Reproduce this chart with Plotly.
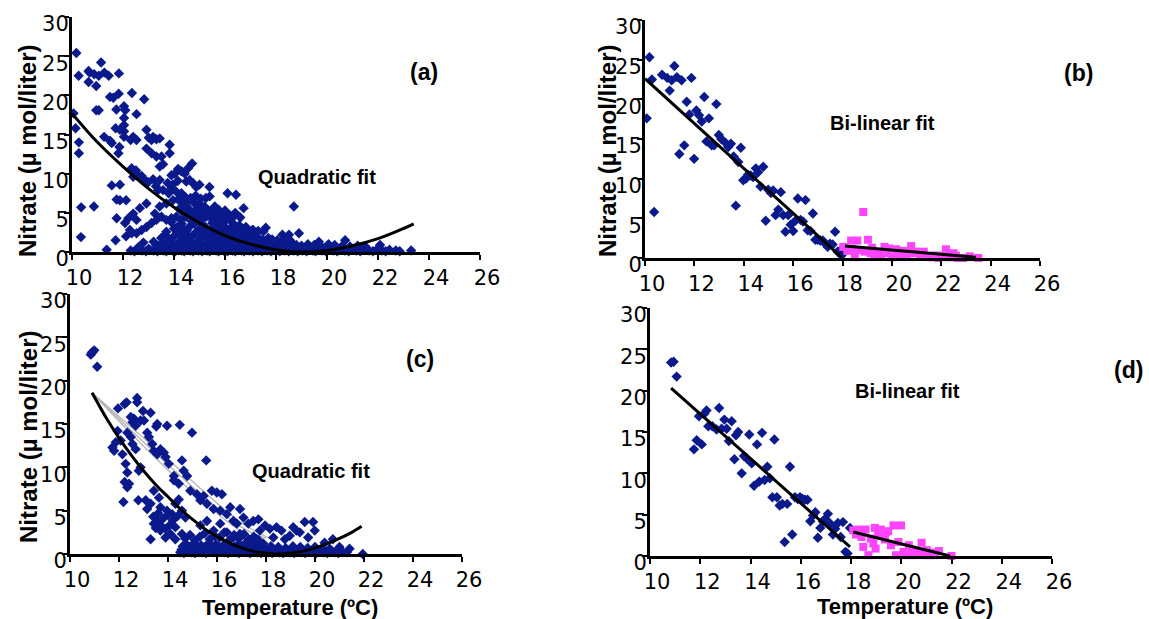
import plotly.graph_objects as go

# ---------------- DATA ----------------
# Panel (a): all data, quadratic fit
a_x_sparse = [10.17,10.26,10.06,10.14,10.27,10.27,10.36,10.35,10.65,10.69,10.65,10.87,10.95,11.05,11.14,11.27,10.95,11.05,10.86,11.26,11.36,11.44,11.49,11.62,11.84,11.83,11.74,11.71,11.56,11.49,11.56,11.75,11.88,12.12,11.75,11.71,11.88,11.86,11.82,12.04,12.09,12.04,12.04,12.04,11.88,12.04,12.35,12.53,12.3,12.4,12.53,12.34,12.51,12.6,12.4,12.73,12.83,12.92,13.01,13.12,13.18,13.31,13.44,13.83,13.83,12.92,13.12,13.31,13.51,13.57,13.44,12.86,12.99,13.18,13.29,13.38,13.44,13.57,13.79,13.9,14.03,14.16,14.29,14.42,14.55,14.71,14.48,14.61,14.74,14.87,15.0,15.39,13.9,14.09,14.29,13.96,14.16,14.35,14.55,14.74,15.0,15.19,15.32,15.52,15.75,16.1,16.43,16.73,13.7,13.44,13.25,12.92,12.66,12.53,12.4,12.21,12.08,12.27,12.12,12.34,12.53,12.73,12.92,13.12,13.31,13.51,13.7,13.9,14.09,14.29,14.48,14.68,14.87,15.06,15.26,15.52,15.78,16.04,16.3,16.56,16.82,17.08,17.6,18.25,18.51,18.7,18.9,19.68,20.71,22.08,20.06,21.49]
a_y_sparse = [25.4,22.5,17.7,15.8,14.0,12.6,5.7,1.9,23.1,22.9,21.7,22.7,21.2,22.5,24.2,22.9,18.1,18.1,5.8,14.7,0.3,22.5,19.8,19.7,22.8,20.2,18.2,15.8,13.9,14.2,8.5,6.7,6.6,6.6,4.3,1.5,8.6,13.4,12.6,18.6,18.1,17.1,16.2,15.4,15.6,14.7,20.3,17.6,14.3,14.7,14.3,10.7,10.4,9.8,9.6,9.7,19.5,15.6,14.6,14.3,14.7,14.4,14.5,13.7,12.6,13.2,12.6,12.2,12.2,11.2,10.9,9.2,8.9,9.3,8.4,7.9,9.2,7.9,7.5,9.8,10.0,10.6,10.3,10.0,10.7,11.3,9.0,9.2,8.8,8.3,8.6,8.3,8.1,7.7,7.5,6.6,6.7,6.2,6.6,6.4,6.1,5.8,5.4,5.4,5.4,7.5,7.3,5.6,6.2,5.8,4.9,6.2,5.6,4.1,4.9,4.3,3.7,2.8,2.0,2.4,2.4,2.8,3.2,3.7,4.1,4.5,4.1,4.3,4.5,4.1,4.5,4.9,4.5,4.1,4.5,4.1,3.9,4.1,3.7,3.4,3.2,2.8,3.1,2.2,2.2,5.8,2.4,1.3,1.5,0.9,1.0,0.7]
a_x_dense = [12.3,12.45,12.6,12.75,12.9,13.05,13.2,13.35,13.45,13.6,13.7,13.8,13.95,14.05,14.15,14.3,14.4,14.5,14.65,14.75,14.85,14.95,15.1,15.2,15.3,15.4,15.55,15.65,15.75,15.85,15.95,16.1,16.2,16.3,16.4,16.55,16.65,16.75,16.85,16.95,17.1,17.2,17.3,17.45,17.55,17.65,17.8,17.9,18.0,18.15,18.25,18.35,18.5,18.6,18.7,18.85,18.95,19.05,19.2,19.3,19.45,19.55,19.7,19.8,19.95,20.1,20.25,20.4,20.55,20.7,20.85,21.0,21.15,21.3,21.5,21.65,21.8,21.95,22.15,22.3,22.45,22.7,22.85,23.3,
             13.3,13.55,13.75,13.9,14.1,14.25,14.45,14.6,14.8,14.9,15.05,15.25,15.35,15.5,15.6,15.8,15.9,16.05,16.25,16.35,16.5,16.6,16.8,16.9,17.05,17.25,17.4,17.6,17.75,17.95,18.1,18.3,18.45,18.65,18.8,19.0,19.25,19.5,19.75,20.0,20.3,20.6,20.9,21.2,21.5,
             13.5,13.65,13.85,14.0,14.2,14.35,14.55,14.7,14.85,15.0,15.15,15.3,15.45,15.6,15.75,15.9,16.0,16.15,16.3,16.45,16.6,16.75,16.9,17.05,17.2,17.35,17.5,17.7,17.85,18.05,18.3,18.55,
             14.0,14.2,14.4,14.6,14.8,15.0,15.2,15.4,15.55,15.7,15.85,16.0,16.2,16.35,16.5,16.7,16.9,17.1,17.3,17.5,
             14.3,14.5,14.7,14.9,15.1,15.3,15.45,15.65,15.8,16.0,16.15,16.3,14.45,14.65,14.85,15.05,15.25,15.4,13.75,13.95,14.15,
             13.6,13.8,14.0,14.2,14.4,14.6,14.8,15.0,15.2,15.4,15.6,15.8,16.0,16.2,16.4,16.6,16.8,17.0,
             13.7,13.9,14.1,14.3,14.5,14.7,14.9,15.1,15.3,15.5,15.7,15.9,16.1,16.3,16.5,16.7,
             14.2,14.4,14.6,14.8,15.0,15.2,15.4,15.6,15.8,16.0,16.2,16.4,16.6,13.2,13.4,13.6,12.6,12.8,13.0]
a_y_dense = [0.2,0.1,0.3,0.2,0.1,0.3,0.2,0.1,0.3,0.2,0.1,0.3,0.2,0.1,0.3,0.2,0.1,0.3,0.2,0.1,0.3,0.2,0.1,0.3,0.2,0.1,0.3,0.2,0.1,0.3,0.2,0.1,0.3,0.2,0.1,0.3,0.2,0.1,0.3,0.2,0.1,0.3,0.2,0.1,0.3,0.2,0.1,0.3,0.2,0.1,0.3,0.2,0.1,0.3,0.2,0.1,0.3,0.2,0.1,0.3,0.2,0.1,0.3,0.2,0.1,0.3,0.2,0.1,0.3,0.2,0.1,0.3,0.2,0.1,0.3,0.2,0.1,0.3,0.2,0.1,0.3,0.2,0.1,0.2,
             0.9,1.1,0.8,1.2,0.9,1.0,0.8,1.2,0.9,1.1,0.8,1.0,1.2,0.9,0.8,1.1,0.9,1.2,0.8,1.0,0.9,1.1,0.8,1.2,0.9,1.0,0.8,1.1,0.9,0.8,1.0,0.9,0.8,1.1,0.9,0.8,1.0,0.9,0.8,0.7,0.9,0.8,0.7,0.8,0.7,
             1.8,2.2,1.6,2.0,2.4,1.7,2.1,1.9,2.5,1.6,2.2,1.8,2.3,1.7,2.0,2.4,1.6,2.1,1.8,2.2,1.5,1.9,2.3,1.6,2.0,1.7,1.5,1.8,1.6,1.5,1.6,1.5,
             3.0,3.4,2.8,3.2,3.6,2.9,3.3,2.7,3.1,3.5,2.8,3.2,3.0,2.7,3.1,2.9,2.6,2.8,2.7,2.6,
             5.2,5.8,5.0,5.6,4.8,5.3,4.9,4.7,5.1,4.6,4.8,4.4,7.0,6.9,7.2,6.8,6.9,7.1,8.8,8.6,9.1,
             0.6,1.4,0.5,1.3,0.6,1.5,0.5,1.4,0.6,1.3,0.5,1.4,0.6,1.2,0.5,1.3,0.5,1.1,
             2.6,3.8,2.4,3.6,2.7,3.9,2.5,3.5,2.6,3.7,2.4,3.3,2.5,3.0,2.3,2.9,
             5.5,6.0,5.4,6.3,5.2,5.7,4.9,5.8,4.7,5.3,4.6,5.0,4.4,1.3,0.8,0.5,0.6,1.2,0.4]
a_fit_x = [10.0,11.0,12.0,13.0,14.0,15.0,16.0,17.0,18.0,19.0,20.0,21.0,22.0,23.0,23.4]
a_fit_y = [17.7,14.0,10.9,8.1,5.7,3.7,2.1,1.0,0.3,0.0,0.2,0.8,1.7,3.0,3.6]

# Panel (b): bi-linear fit, all data
b_low_x = [10.07,10.18,10.28,10.37,10.69,10.9,11.0,11.08,11.19,11.29,11.39,11.48,11.59,11.69,11.8,11.88,11.99,12.08,12.19,12.3,12.4,12.49,12.59,12.7,12.8,12.89,12.99,13.09,13.27,13.37,13.48,13.59,13.68,13.78,13.88,13.98,14.09,14.17,14.28,14.38,14.49,14.58,14.68,14.79,14.89,14.99,15.1,15.19,15.29,15.4,15.5,15.6,15.69,15.8,15.9,16.0,16.09,16.19,16.3,16.4,16.5,16.59,16.7,16.8,16.9,16.99,17.1,17.2,17.3,17.4,17.49,17.6,17.7,17.8,17.89,17.96]
b_low_y = [17.6,25.3,22.5,5.8,23.1,22.7,21.1,22.4,24.2,22.8,13.1,22.4,14.2,19.7,18.1,22.7,12.5,18.6,18.0,17.2,20.3,14.7,17.6,14.2,14.2,19.4,15.5,15.0,14.5,14.0,14.4,12.8,6.6,12.1,13.9,9.8,10.0,10.5,10.4,10.2,11.3,10.8,9.0,11.5,4.7,8.6,8.2,8.5,5.4,6.1,8.3,5.4,3.3,5.4,4.2,3.4,4.7,7.5,4.8,4.6,7.3,3.5,3.4,5.6,2.3,2.3,2.2,2.2,1.8,1.4,1.8,1.7,3.3,0.8,0.9,0.3]
b_high_x = [18.03,18.35,18.5,18.6,18.84,19.03,19.14,19.28,19.42,19.56,19.7,19.9,20.0,20.18,20.3,20.46,20.6,20.78,20.87,21.0,21.15,21.29,21.43,21.57,21.7,21.88,22.19,22.33,22.5,22.67,22.88,23.16,23.5,18.4,18.7,19.2,19.83,20.25,20.67,21.22,21.8,22.05,22.6,18.2,18.9,19.5]
b_high_y = [1.4,2.2,0.1,2.2,5.8,2.3,0.6,0.3,0.5,0.2,1.4,1.2,0.1,1.1,0.3,0.9,0.3,1.5,0.6,0.8,0.2,0.8,0.2,0.1,0.3,0.0,1.1,0.1,0.6,0.0,0.0,0.2,0.0,1.1,1.0,1.3,0.6,0.5,0.6,0.4,0.3,0.3,0.3,0.9,0.8,0.4]
b_fit1_x = [10.0,17.96]
b_fit1_y = [22.6,0.1]
b_fit2_x = [18.1,23.4]
b_fit2_y = [1.5,0.1]

# Panel (c): quadratic fit, subset
c_x_sparse = [10.85,10.92,10.99,10.88,11.11,11.96,12.23,12.31,12.74,12.74,12.98,13.29,13.52,13.56,13.96,14.48,14.98,15.56,16.94,11.94,11.87,11.73,11.8,12.07,12.14,12.27,12.34,12.23,12.34,12.41,12.18,12.79,12.48,12.55,12.61,12.34,12.48,12.55,12.68,12.68,12.88,13.02,13.15,13.22,13.36,13.42,13.56,13.69,13.83,13.9,14.03,12.81,12.88,13.09,13.15,13.29,13.42,13.63,13.69,13.56,13.42,13.29,13.69,13.9,14.1,14.3,14.57,13.96,14.17,14.3,14.44,14.57,14.71,14.24,14.44,14.64,14.78,14.57,14.24,14.91,15.18,15.32,15.45,15.59,15.79,15.99,16.2,15.86,16.13,16.4,16.54,16.67,16.81,17.08,17.28,17.48,17.69,17.75,17.96,18.16,18.3,18.43,18.63,18.77,18.97,19.11,19.24,19.38,19.58,19.72,19.92,19.99,20.39,20.73,21.0,21.41,21.95,15.59,15.32,15.86,16.13,16.4,16.67,16.94,17.35,17.62,17.89]
c_y_sparse = [23.0,23.3,23.5,23.2,21.6,16.8,17.3,17.5,18.0,17.5,16.5,16.3,14.7,15.0,14.8,14.9,14.0,10.8,5.2,14.2,12.9,12.3,11.9,13.1,11.5,10.4,9.4,8.3,7.7,8.1,6.0,6.2,15.8,15.2,15.6,14.0,13.5,12.7,12.1,14.8,15.4,15.4,14.0,13.5,12.7,11.9,11.5,12.1,11.7,11.2,10.4,9.6,10.0,6.2,5.2,5.8,7.3,6.5,5.4,3.8,3.5,1.7,2.7,1.9,2.3,1.7,2.3,5.0,4.6,5.8,6.3,5.0,4.2,8.5,8.1,9.6,9.0,10.8,9.0,7.3,6.9,6.2,6.7,5.8,7.3,7.1,6.9,5.2,5.0,4.6,5.4,3.8,3.5,4.2,3.5,3.8,4.0,2.7,3.3,2.9,1.9,3.1,2.7,1.7,2.1,3.1,2.7,2.5,3.7,1.9,3.7,2.7,1.3,1.7,0.8,0.6,0.0,3.8,3.3,2.7,3.5,2.5,1.9,2.3,1.3,1.7,1.2]
c_x_dense = [14.5,14.65,14.8,14.95,15.1,15.25,15.4,15.55,15.7,15.85,16.0,16.15,16.3,16.45,16.6,16.75,16.9,17.05,17.2,17.35,17.5,17.65,17.8,17.95,18.1,18.25,18.4,18.55,18.7,18.85,19.0,19.15,19.3,19.45,19.6,19.75,19.9,20.05,20.2,20.35,20.5,20.65,20.8,20.95,21.1,21.3,
             14.6,14.75,14.9,15.05,15.2,15.35,15.5,15.65,15.8,15.95,16.1,16.25,16.4,16.55,16.7,16.85,17.0,17.15,17.3,17.45,17.6,17.75,17.9,18.2,18.5,18.8,19.1,19.4,19.7,20.0,20.3,20.6,
             14.7,14.9,15.1,15.3,15.5,15.7,15.9,16.1,16.3,16.5,16.7,16.9,17.1,17.3,17.5,17.7,
             13.4,13.6,13.8,14.0,14.2,14.4,13.5,13.7,13.9,14.1,14.3,
             14.55,14.85,15.15,15.45,15.75,16.05,16.35,16.65]
c_y_dense = [0.2,0.1,0.3,0.2,0.1,0.3,0.2,0.1,0.3,0.2,0.1,0.3,0.2,0.1,0.3,0.2,0.1,0.3,0.2,0.1,0.3,0.2,0.1,0.3,0.2,0.1,0.3,0.2,0.1,0.3,0.2,0.1,0.3,0.2,0.1,0.3,0.2,0.1,0.3,0.2,0.1,0.3,0.2,0.1,0.3,0.2,
             0.9,1.1,0.8,1.2,0.9,1.0,0.8,1.2,0.9,1.1,0.8,1.0,1.2,0.9,0.8,1.1,0.9,1.2,0.8,1.0,0.9,1.1,0.8,0.9,0.8,0.7,0.9,0.8,0.7,0.8,0.7,0.6,
             1.8,2.2,1.6,2.0,2.4,1.7,2.1,1.9,2.5,1.6,2.2,1.8,2.3,1.7,2.0,1.6,
             4.3,4.7,4.1,4.5,3.9,4.4,3.0,3.3,2.9,3.4,3.1,
             0.5,0.6,0.4,0.6,0.5,0.4,0.6,0.5]
c_fit_x = [10.9,11.5,12.0,12.5,13.0,13.5,14.0,14.5,15.0,15.5,16.0,16.5,17.0,17.5,18.0,18.5,19.0,19.5,20.0,20.5,21.0,21.5,21.9]
c_fit_y = [18.6,15.6,13.4,11.4,9.6,8.0,6.6,5.2,4.0,2.9,2.0,1.3,0.7,0.3,0.1,0.0,0.1,0.3,0.7,1.2,1.8,2.5,3.2]
c_gray1_x = [10.9,14.0,17.0,18.3]
c_gray1_y = [18.6,10.9,3.6,1.6]
c_gray2_x = [10.9,14.0,17.0,18.0]
c_gray2_y = [18.6,10.3,3.1,1.8]
c_gray3_x = [10.9,14.0,17.0,17.8]
c_gray3_y = [18.6,9.7,2.6,1.7]

# Panel (d): bi-linear fit, subset
d_low_x = [10.84,10.94,11.06,11.75,11.86,11.95,12.06,12.16,12.25,12.32,12.48,12.65,12.75,12.85,12.96,13.05,13.14,13.25,13.36,13.42,13.51,13.65,13.74,13.85,13.95,14.05,14.14,14.26,14.35,14.46,14.56,14.67,14.77,14.87,14.95,15.05,15.16,15.27,15.36,15.46,15.57,15.66,15.77,15.88,15.97,16.07,16.17,16.27,16.38,16.49,16.58,16.68,16.78,16.88,16.98,17.08,17.18,17.28,17.37,17.48,17.59,17.68,17.78,17.86,17.96]
d_low_y = [23.4,23.5,21.7,12.9,14.0,16.9,13.5,17.2,17.6,15.7,15.7,15.3,17.9,15.4,16.5,15.4,13.9,16.3,11.7,14.6,15.0,10.0,12.1,11.8,14.7,11.2,8.5,13.5,9.0,14.9,9.2,10.8,9.4,7.1,14.1,7.1,6.1,6.3,1.7,6.3,10.8,2.6,7.1,6.9,7.1,6.9,6.8,6.8,4.2,4.9,5.3,2.2,3.4,4.2,4.5,5.1,3.9,2.6,3.3,4.0,2.3,4.1,0.5,0.3,3.4]
d_high_x = [18.09,18.29,18.42,18.49,18.58,18.69,18.79,18.89,18.98,19.08,19.19,19.28,19.39,19.48,19.59,19.69,19.79,19.89,19.99,20.09,20.2,20.3,20.41,20.5,20.61,20.7,20.81,20.92,21.02,21.11,21.23,21.34,21.5,22.0,18.2,18.95,19.35,20.45,20.85,21.2]
d_high_y = [3.1,3.2,2.3,1.1,3.2,0.1,2.1,1.5,0.9,2.5,3.2,2.7,2.9,3.0,1.3,3.7,0.1,1.7,3.7,0.5,0.1,1.3,0.7,0.1,0.5,0.3,1.6,0.1,0.7,0.1,0.3,0.1,0.6,0.0,2.6,3.4,2.0,0.4,0.2,0.4]
d_fit1_x = [10.84,17.96]
d_fit1_y = [20.3,1.1]
d_fit2_x = [18.09,21.94]
d_fit2_y = [2.9,0.0]

x_ticks = [10,12,14,16,18,20,22,24,26]
y_ticks = [0,5,10,15,20,25,30]

# ---------------- STYLE ----------------
BLUE = "#0a1a8c"
PINK = "#ff44ff"
W, H = 1149, 619

def px_dom(x0, x1):
    return [x0 / W, x1 / W]

def py_dom(ytop, ybot):
    return [1 - ybot / H, 1 - ytop / H]

panels = {
    "a": dict(x=px_dom(72, 480), y=py_dom(17, 252)),
    "b": dict(x=px_dom(645, 1040), y=py_dom(20, 258)),
    "c": dict(x=px_dom(70, 462), y=py_dom(294, 554)),
    "d": dict(x=px_dom(650, 1052), y=py_dom(308, 556)),
}
axis_ids = {"a": ("x", "y"), "b": ("x2", "y2"), "c": ("x3", "y3"), "d": ("x4", "y4")}

fig = go.Figure()

def blue_pts(xs, ys, p):
    xa, ya = axis_ids[p]
    fig.add_trace(go.Scatter(x=xs, y=ys, mode="markers", xaxis=xa, yaxis=ya,
                             marker=dict(symbol="diamond", size=8, color=BLUE, line=dict(width=0)),
                             cliponaxis=False, showlegend=False))

def pink_pts(xs, ys, p):
    xa, ya = axis_ids[p]
    fig.add_trace(go.Scatter(x=xs, y=ys, mode="markers", xaxis=xa, yaxis=ya,
                             marker=dict(symbol="square", size=8, color=PINK, line=dict(width=0)),
                             cliponaxis=False, showlegend=False))

def fit_line(xs, ys, p, color="black", width=3):
    xa, ya = axis_ids[p]
    fig.add_trace(go.Scatter(x=xs, y=ys, mode="lines", xaxis=xa, yaxis=ya,
                             line=dict(color=color, width=width, shape="spline"),
                             cliponaxis=False, showlegend=False))

# (a)
blue_pts(a_x_sparse, a_y_sparse, "a")
blue_pts(a_x_dense, a_y_dense, "a")
fit_line(a_fit_x, a_fit_y, "a")
# (b)
blue_pts(b_low_x, b_low_y, "b")
pink_pts(b_high_x, b_high_y, "b")
fit_line(b_fit1_x, b_fit1_y, "b")
fit_line(b_fit2_x, b_fit2_y, "b")
# (c)
fit_line(c_gray1_x, c_gray1_y, "c", color="#b4b4b4", width=1.3)
fit_line(c_gray2_x, c_gray2_y, "c", color="#b4b4b4", width=1.3)
fit_line(c_gray3_x, c_gray3_y, "c", color="#b4b4b4", width=1.3)
blue_pts(c_x_sparse, c_y_sparse, "c")
blue_pts(c_x_dense, c_y_dense, "c")
fit_line(c_fit_x, c_fit_y, "c")
# (d)
blue_pts(d_low_x, d_low_y, "d")
pink_pts(d_high_x, d_high_y, "d")
fit_line(d_fit1_x, d_fit1_y, "d")
fit_line(d_fit2_x, d_fit2_y, "d")

tick_font = dict(family="DejaVu Sans, Verdana, sans-serif", size=21, color="black")
layout = dict(width=W, height=H, margin=dict(l=0, r=0, t=0, b=0, autoexpand=False),
              paper_bgcolor="white", plot_bgcolor="white", showlegend=False)
for p, (xa, ya) in axis_ids.items():
    xkey = "xaxis" + xa[1:]
    ykey = "yaxis" + ya[1:]
    layout[xkey] = dict(domain=panels[p]["x"], range=[10, 26], anchor=ya, automargin=False,
                        tickvals=x_ticks, ticktext=[str(v) for v in x_ticks],
                        showgrid=False, zeroline=False, showline=True, linecolor="black", linewidth=3,
                        ticks="outside", ticklen=5, tickwidth=2, tickcolor="black",
                        tickfont=tick_font, ticklabelshift=7, ticklabelstandoff=0)
    layout[ykey] = dict(domain=panels[p]["y"], range=[0, 30], anchor=xa, automargin=False,
                        tickvals=y_ticks, ticktext=[str(v) for v in y_ticks],
                        showgrid=False, zeroline=False, showline=True, linecolor="black", linewidth=3,
                        ticks="outside", ticklen=5, tickwidth=2, tickcolor="black",
                        tickfont=tick_font, ticklabelshift=7, ticklabelstandoff=-9)
fig.update_layout(**layout)

lab_font = dict(family="Liberation Sans, Arial, sans-serif", size=20, color="black")
big_lab_font = dict(family="Liberation Sans, Arial, sans-serif", size=23, color="black")
title_font = dict(family="Liberation Sans, Arial, sans-serif", size=24, color="black")
temp_font = dict(family="Liberation Sans, Arial, sans-serif", size=22, color="black")

def ann_data(p, x, y, text, font=lab_font):
    xa, ya = axis_ids[p]
    fig.add_annotation(x=x, y=y, xref=xa, yref=ya, text="<b>%s</b>" % text,
                       showarrow=False, font=font, xanchor="center", yanchor="middle")

def ann_px(x, y, text, angle=0, font=title_font):
    fig.add_annotation(x=x / W, y=1 - y / H, xref="paper", yref="paper", text="<b>%s</b>" % text,
                       showarrow=False, font=font, textangle=angle,
                       xanchor="center", yanchor="middle")

ann_data("a", 23.8, 23.0, "(a)", big_lab_font)
ann_data("a", 19.6, 9.6, "Quadratic fit")
ann_data("b", 19.6, 17.0, "Bi-linear fit")
ann_data("c", 24.3, 22.5, "(c)", big_lab_font)
ann_data("c", 19.85, 9.6, "Quadratic fit")
ann_data("d", 20.25, 20.0, "Bi-linear fit")
ann_px(1078, 73, "(b)", font=big_lab_font)
ann_px(1128, 370, "(d)", font=big_lab_font)

ann_px(27, 151, "Nitrate (µ mol/liter)", -90)
ann_px(607, 151, "Nitrate (µ mol/liter)", -90)
ann_px(28, 437, "Nitrate (µ mol/liter)", -90)
ann_px(290, 607, "Temperature (ºC)", font=temp_font)
ann_px(905, 606, "Temperature (ºC)", font=temp_font)

fig.write_html("out.html")
